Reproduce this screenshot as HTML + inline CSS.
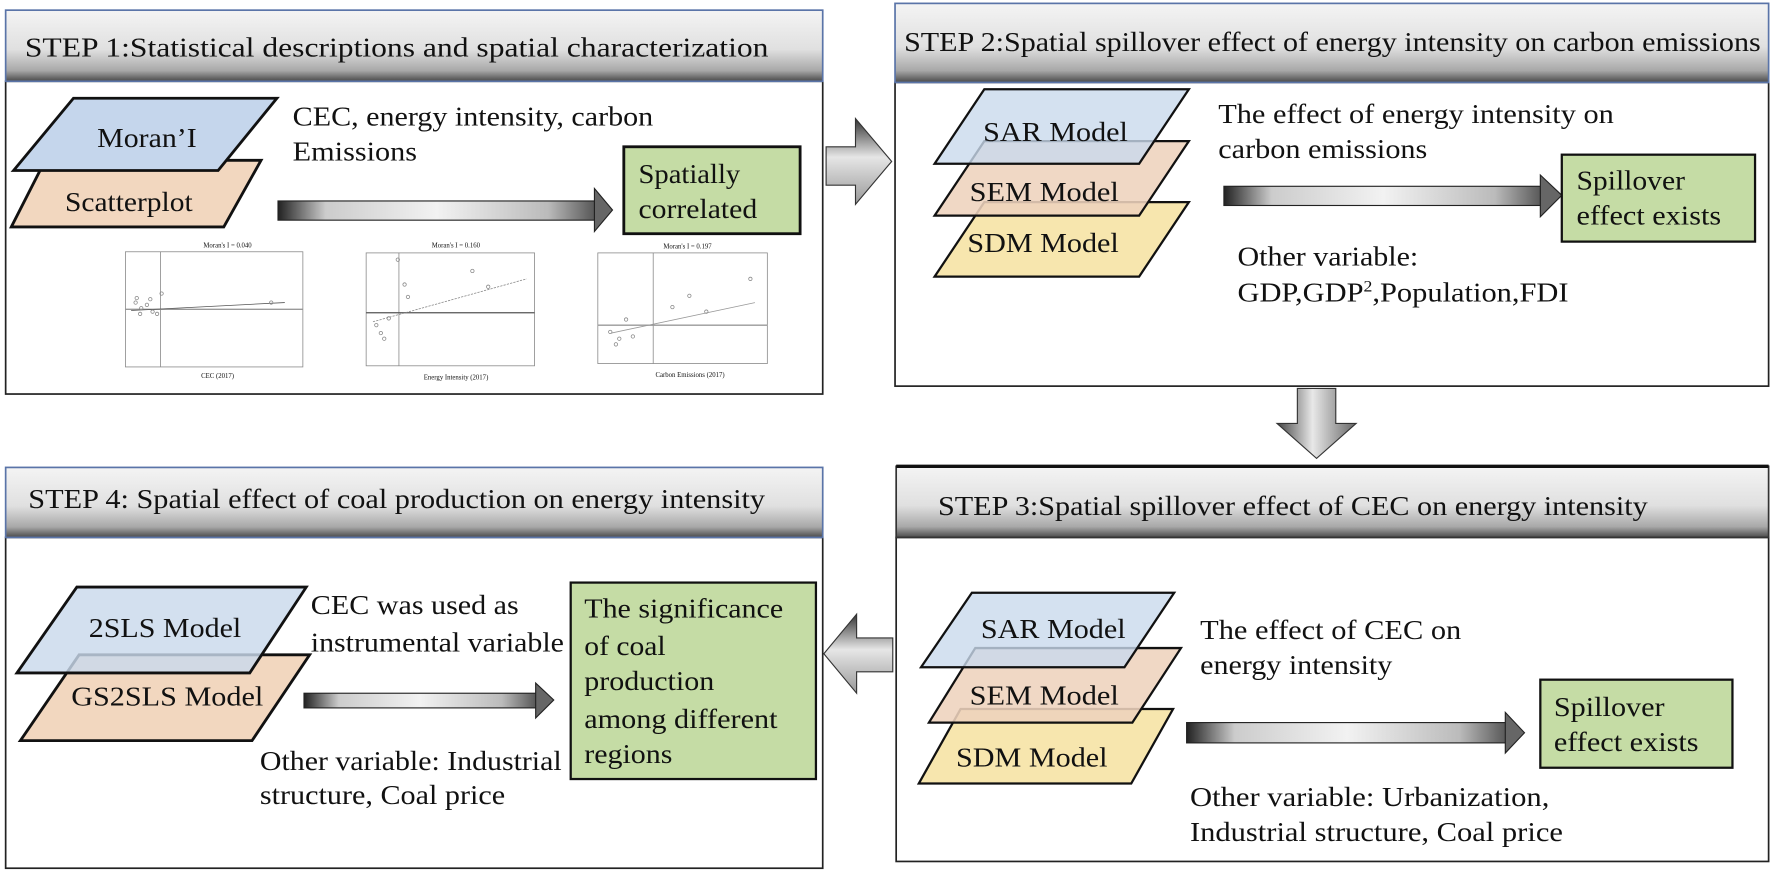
<!DOCTYPE html>
<html><head><meta charset="utf-8"><style>
html,body{margin:0;padding:0;background:#fff;}
svg{display:block;}
text{font-family:"Liberation Serif","Times New Roman",serif;fill:#111;}
</style></head><body>
<svg width="1772" height="875" viewBox="0 0 1568 775" preserveAspectRatio="none" xmlns="http://www.w3.org/2000/svg" font-family="Liberation Serif, serif">
<defs>
<linearGradient id="hd" x1="0" y1="0" x2="0" y2="1">
<stop offset="0" stop-color="#f4f4f4"/><stop offset="0.55" stop-color="#e0e0e0"/><stop offset="0.85" stop-color="#a8a8a8"/><stop offset="1" stop-color="#4a4a4a"/>
</linearGradient>
<linearGradient id="ah" x1="0" y1="0" x2="1" y2="0">
<stop offset="0" stop-color="#222"/><stop offset="0.15" stop-color="#ccc"/><stop offset="0.5" stop-color="#f2f2f2"/><stop offset="0.85" stop-color="#bbb"/><stop offset="1" stop-color="#555"/>
</linearGradient>
<linearGradient id="av" x1="0" y1="0" x2="0" y2="1">
<stop offset="0" stop-color="#333"/><stop offset="0.45" stop-color="#e6e6e6"/><stop offset="1" stop-color="#999"/>
</linearGradient>
<linearGradient id="ab" x1="0" y1="0" x2="1" y2="0">
<stop offset="0" stop-color="#444"/><stop offset="0.45" stop-color="#e8e8e8"/><stop offset="1" stop-color="#666"/>
</linearGradient>
</defs>

<!-- BOX 1 -->
<rect x="5" y="72" width="723" height="277" fill="#fff" stroke="#222" stroke-width="1.5"/>
<rect x="5" y="9" width="723" height="63" fill="url(#hd)" stroke="#5a74a8" stroke-width="1.5"/>
<text x="22" y="50" font-size="24" textLength="658" lengthAdjust="spacingAndGlyphs">STEP 1:Statistical descriptions and spatial characterization</text>
<polygon points="10,201 40,142 231,142 198,201" fill="#f2d7bf" stroke="#111" stroke-width="2.5"/>
<polygon points="12,151 65,87 245,87 193,151" fill="#c5d6ec" stroke="#111" stroke-width="2.5"/>
<text x="130" y="130" font-size="24" text-anchor="middle" textLength="88" lengthAdjust="spacingAndGlyphs">Moran’I</text>
<text x="114" y="187" font-size="24" text-anchor="middle" textLength="113" lengthAdjust="spacingAndGlyphs">Scatterplot</text>
<text x="259" y="111" font-size="24" textLength="319" lengthAdjust="spacingAndGlyphs">CEC, energy intensity, carbon</text>
<text x="259" y="142" font-size="24" textLength="110" lengthAdjust="spacingAndGlyphs">Emissions</text>
<rect x="246" y="178" width="281" height="17" fill="url(#ah)" stroke="#222"/>
<polygon points="526,167 542,186 526,205" fill="#666" stroke="#222"/>
<rect x="552" y="130" width="156" height="77" fill="#c5dca5" stroke="#111" stroke-width="2.5"/>
<text x="565" y="162" font-size="24" textLength="90" lengthAdjust="spacingAndGlyphs">Spatially</text>
<text x="565" y="193" font-size="24" textLength="105" lengthAdjust="spacingAndGlyphs">correlated</text>
<!-- scatter plots -->
<g stroke="#888" stroke-width="0.7" fill="none">
<rect x="111" y="223" width="157" height="102"/>
<line x1="142" y1="223" x2="142" y2="325"/><line x1="111" y1="274" x2="268" y2="274" stroke="#999" stroke-width="1.2"/>
<line x1="116" y1="275" x2="252" y2="268" stroke="#555"/>
<circle cx="120" cy="268" r="1.5"/><circle cx="125" cy="273" r="1.5"/><circle cx="130" cy="270" r="1.5"/><circle cx="124" cy="278" r="1.5"/><circle cx="143" cy="260" r="1.5"/><circle cx="135" cy="276" r="1.5"/><circle cx="121" cy="264" r="1.5"/><circle cx="240" cy="268" r="1.5"/><circle cx="133" cy="265" r="1.5"/><circle cx="139" cy="278" r="1.5"/>
<rect x="324" y="224" width="149" height="100"/>
<line x1="353" y1="224" x2="353" y2="324"/><line x1="324" y1="277" x2="473" y2="277" stroke="#555" stroke-width="1.2"/>
<line x1="330" y1="285" x2="466" y2="247" stroke="#888" stroke-dasharray="2,1"/>
<circle cx="333" cy="288" r="1.5"/><circle cx="337" cy="295" r="1.5"/><circle cx="344" cy="282" r="1.5"/><circle cx="352" cy="230" r="1.5"/><circle cx="358" cy="252" r="1.5"/><circle cx="418" cy="240" r="1.5"/><circle cx="432" cy="254" r="1.5"/><circle cx="361" cy="263" r="1.5"/><circle cx="340" cy="300" r="1.5"/>
<rect x="529" y="224" width="150" height="98"/>
<line x1="578" y1="224" x2="578" y2="322"/><line x1="529" y1="288" x2="679" y2="288" stroke="#999" stroke-width="1.2"/>
<line x1="541" y1="295" x2="668" y2="268" stroke="#999"/>
<circle cx="540" cy="294" r="1.5"/><circle cx="548" cy="300" r="1.5"/><circle cx="554" cy="283" r="1.5"/><circle cx="560" cy="298" r="1.5"/><circle cx="595" cy="272" r="1.5"/><circle cx="610" cy="262" r="1.5"/><circle cx="625" cy="276" r="1.5"/><circle cx="664" cy="247" r="1.5"/><circle cx="545" cy="305" r="1.5"/>
</g>
<g font-size="6" fill="#555">
<text x="180" y="219">Moran's I = 0.040</text><text x="382" y="219">Moran's I = 0.160</text><text x="587" y="220">Moran's I = 0.197</text>
<text x="178" y="335">CEC (2017)</text><text x="375" y="336">Energy Intensity (2017)</text><text x="580" y="334">Carbon Emissions (2017)</text>
</g>

<!-- Arrow 1 to 2 -->
<polygon points="731,130 757,130 757,105 789,143 757,181 757,164 731,164" fill="url(#av)" stroke="#333"/>

<!-- BOX 2 -->
<rect x="792" y="73" width="773" height="269" fill="#fff" stroke="#222" stroke-width="1.5"/>
<rect x="792" y="3" width="773" height="70" fill="url(#hd)" stroke="#5a74a8" stroke-width="1.5"/>
<text x="800" y="45" font-size="24" textLength="758" lengthAdjust="spacingAndGlyphs">STEP 2:Spatial spillover effect of energy intensity on carbon emissions</text>
<polygon points="827,245 871,179 1052,179 1008,245" fill="#f7e6ae" stroke="#111" stroke-width="2"/>
<polygon points="827,191 871,125 1052,125 1008,191" fill="#eed3bd" fill-opacity="0.88" stroke="#111" stroke-width="2"/>
<polygon points="827,145 871,79 1052,79 1008,145" fill="#c9d9ec" fill-opacity="0.8" stroke="#111" stroke-width="2"/>
<text x="934" y="125" font-size="24" text-anchor="middle" textLength="128" lengthAdjust="spacingAndGlyphs">SAR Model</text>
<text x="924" y="178" font-size="24" text-anchor="middle" textLength="132" lengthAdjust="spacingAndGlyphs">SEM Model</text>
<text x="923" y="223" font-size="24" text-anchor="middle" textLength="134" lengthAdjust="spacingAndGlyphs">SDM Model</text>
<text x="1078" y="109" font-size="24" textLength="350" lengthAdjust="spacingAndGlyphs">The effect of energy intensity on</text>
<text x="1078" y="140" font-size="24" textLength="185" lengthAdjust="spacingAndGlyphs">carbon emissions</text>
<rect x="1083" y="165" width="282" height="17" fill="url(#ah)" stroke="#222"/>
<polygon points="1363,155 1382,173 1363,192" fill="#666" stroke="#222"/>
<rect x="1382" y="137" width="171" height="77" fill="#c5dca5" stroke="#111" stroke-width="2"/>
<text x="1395" y="168" font-size="24" textLength="96" lengthAdjust="spacingAndGlyphs">Spillover</text>
<text x="1395" y="199" font-size="24" textLength="128" lengthAdjust="spacingAndGlyphs">effect exists</text>
<text x="1095" y="235" font-size="24" textLength="160" lengthAdjust="spacingAndGlyphs">Other variable:</text>
<text x="1095" y="267" font-size="24" textLength="293" lengthAdjust="spacingAndGlyphs">GDP,GDP<tspan font-size="14" dy="-9">2</tspan><tspan dy="9">,Population,FDI</tspan></text>

<!-- Arrow down -->
<polygon points="1148,344 1182,344 1182,375 1200,375 1165,406 1130,375 1148,375" fill="url(#ab)" stroke="#333"/>

<!-- BOX 3 -->
<rect x="793" y="476" width="772" height="287" fill="#fff" stroke="#222" stroke-width="1.5"/>
<rect x="793" y="413" width="772" height="63" fill="url(#hd)" stroke="#333" stroke-width="1.5"/>
<line x1="793" y1="413" x2="1565" y2="413" stroke="#111" stroke-width="3"/>
<text x="830" y="456" font-size="24" textLength="628" lengthAdjust="spacingAndGlyphs">STEP 3:Spatial spillover effect of CEC on energy intensity</text>
<polygon points="813,694 850,628 1038,628 1001,694" fill="#f7e6ae" stroke="#111" stroke-width="2"/>
<polygon points="822,640 863,574 1045,574 1002,640" fill="#eed3bd" fill-opacity="0.88" stroke="#111" stroke-width="2"/>
<polygon points="815,591 860,525 1039,525 995,591" fill="#c9d9ec" fill-opacity="0.8" stroke="#111" stroke-width="2"/>
<text x="932" y="565" font-size="24" text-anchor="middle" textLength="128" lengthAdjust="spacingAndGlyphs">SAR Model</text>
<text x="924" y="624" font-size="24" text-anchor="middle" textLength="132" lengthAdjust="spacingAndGlyphs">SEM Model</text>
<text x="913" y="679" font-size="24" text-anchor="middle" textLength="134" lengthAdjust="spacingAndGlyphs">SDM Model</text>
<text x="1062" y="566" font-size="24" textLength="231" lengthAdjust="spacingAndGlyphs">The effect of CEC on</text>
<text x="1062" y="597" font-size="24" textLength="170" lengthAdjust="spacingAndGlyphs">energy intensity</text>
<rect x="1050" y="640" width="284" height="18" fill="url(#ah)" stroke="#222"/>
<polygon points="1332,631 1349,649 1332,667" fill="#666" stroke="#222"/>
<rect x="1363" y="602" width="170" height="78" fill="#c5dca5" stroke="#111" stroke-width="2"/>
<text x="1375" y="634" font-size="24" textLength="98" lengthAdjust="spacingAndGlyphs">Spillover</text>
<text x="1375" y="665" font-size="24" textLength="128" lengthAdjust="spacingAndGlyphs">effect exists</text>
<text x="1053" y="714" font-size="24" textLength="318" lengthAdjust="spacingAndGlyphs">Other variable: Urbanization,</text>
<text x="1053" y="745" font-size="24" textLength="330" lengthAdjust="spacingAndGlyphs">Industrial structure, Coal price</text>

<!-- Arrow left -->
<polygon points="790,565 758,565 758,544 729,579 758,614 758,595 790,595" fill="url(#av)" stroke="#333"/>

<!-- BOX 4 -->
<rect x="5" y="476" width="723" height="293" fill="#fff" stroke="#222" stroke-width="1.5"/>
<rect x="5" y="414" width="723" height="62" fill="url(#hd)" stroke="#5a74a8" stroke-width="1.5"/>
<text x="25" y="450" font-size="24" textLength="652" lengthAdjust="spacingAndGlyphs">STEP 4: Spatial effect of coal production on energy intensity</text>
<polygon points="18,656 70,580 274,580 223,656" fill="#f2d7bf" stroke="#111" stroke-width="2.5"/>
<polygon points="15,596 68,520 271,520 221,596" fill="#c9d9ec" fill-opacity="0.82" stroke="#111" stroke-width="2.5"/>
<text x="146" y="564" font-size="24" text-anchor="middle" textLength="135" lengthAdjust="spacingAndGlyphs">2SLS Model</text>
<text x="148" y="625" font-size="24" text-anchor="middle" textLength="170" lengthAdjust="spacingAndGlyphs">GS2SLS Model</text>
<text x="275" y="544" font-size="24" textLength="184" lengthAdjust="spacingAndGlyphs">CEC was used as</text>
<text x="275" y="577" font-size="24" textLength="224" lengthAdjust="spacingAndGlyphs">instrumental variable</text>
<rect x="269" y="614" width="206" height="13" fill="url(#ah)" stroke="#222"/>
<polygon points="474,605 490,620 474,636" fill="#666" stroke="#222"/>
<rect x="505" y="516" width="217" height="174" fill="#c5dca5" stroke="#111" stroke-width="2"/>
<text x="517" y="547" font-size="24" textLength="176" lengthAdjust="spacingAndGlyphs">The significance</text>
<text x="517" y="580" font-size="24" textLength="72" lengthAdjust="spacingAndGlyphs">of coal</text>
<text x="517" y="611" font-size="24" textLength="115" lengthAdjust="spacingAndGlyphs">production</text>
<text x="517" y="645" font-size="24" textLength="171" lengthAdjust="spacingAndGlyphs">among different</text>
<text x="517" y="676" font-size="24" textLength="78" lengthAdjust="spacingAndGlyphs">regions</text>
<text x="230" y="682" font-size="24" textLength="267" lengthAdjust="spacingAndGlyphs">Other variable: Industrial</text>
<text x="230" y="712" font-size="24" textLength="217" lengthAdjust="spacingAndGlyphs">structure, Coal price</text>
</svg>
</body></html>
